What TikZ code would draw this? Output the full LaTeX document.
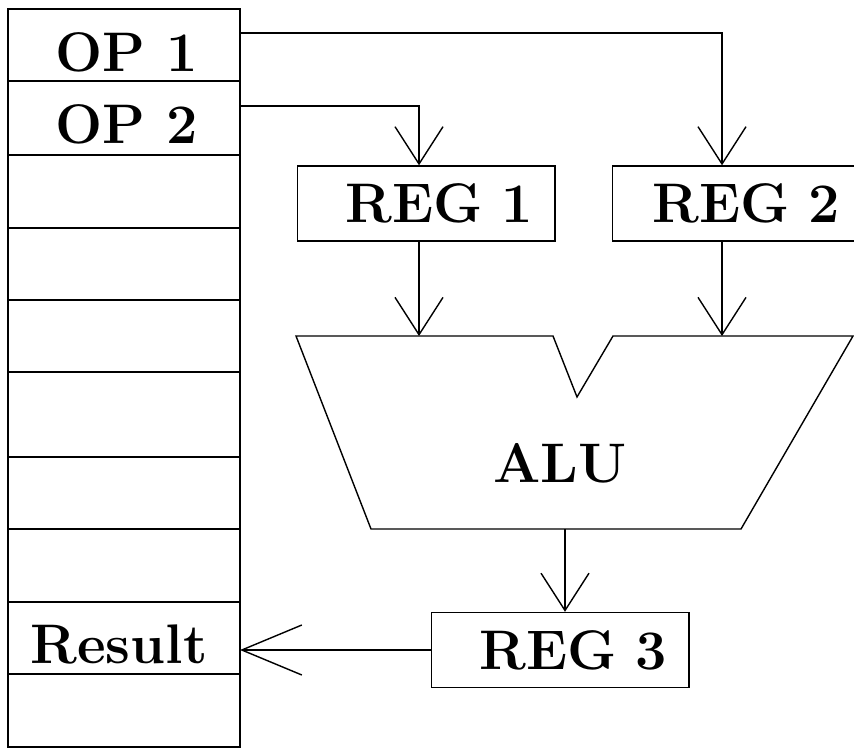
\documentclass[tikz,border=0pt]{standalone}
\usetikzlibrary{arrows.meta}
\tikzset{
    lbl/.style={font=\fontsize{23.8}{29}\selectfont\bfseries, inner sep=0pt},
    regbox/.style={draw, anchor=west, font=\fontsize{23.8}{29}\selectfont\bfseries, minimum height=1.125cm,
        text width=3.2cm, align=right, inner xsep=0.33cm, inner ysep=0pt},
    arr/.style={-{Straight Barb[length=0.56cm,width=0.72cm]}},
    arrlong/.style={-{Straight Barb[length=0.9cm,width=0.75cm]}}
}
\begin{document}
\begin{tikzpicture}[x=0.015cm, y=-0.015cm, line width=0.6pt]
            \useasboundingbox (0,0) rectangle (854,748);
            \clip (0,0) rectangle (854,748);
            % register file
            \draw (8,9) rectangle (240,747);
            \foreach \y in {81,155,228,300,372,457,529,602,674}
                \draw (8,\y) -- (240,\y);
            \node[lbl] (op1) at (127,52) {OP 1};
            \node[lbl] (op2) at (127,124) {OP 2};
            \node[lbl] (res) at (119,644) {Result};
            \coordinate (op1out) at (240,33);
            \coordinate (op2out) at (240,106);
            \coordinate (resin) at (240,650);
            % registers
            \node[regbox] (reg1) at (297,203.5) {REG 1};
            \node[regbox, text width=3.08cm] (reg2) at (612,203.5) {REG 2};
            \node[regbox] (reg3) at (431,650) {REG 3};
            % ALU
            \coordinate (aluTL) at (296,336);
            \coordinate (aluTR) at (853,336);
            \coordinate (aluBL) at (371,529);
            \coordinate (aluB) at (565,529);
            \draw (aluTL) -- (553,336) -- (577,397) -- (613,336) -- (aluTR)
                -- (741,529) -- (aluBL) -- cycle;
            \node[lbl] (alu) at (560,463) {ALU};
            % connections
            \draw[arr] (op1out) -| ([xshift=1.65cm]reg2.north west);
            \draw[arr] (op2out) -| ([xshift=1.83cm]reg1.north west);
            \draw[arr] ([xshift=1.83cm]reg1.south west) -- ([xshift=1.83cm]reg1.south west |- aluTL);
            \draw[arr] ([xshift=1.65cm]reg2.south west) -- ([xshift=1.65cm]reg2.south west |- aluTL);
            \draw[arr] (aluB) -- (aluB |- reg3.north);
            \draw[arrlong] (reg3.west) -- (resin);
        \end{tikzpicture}
\end{document}
